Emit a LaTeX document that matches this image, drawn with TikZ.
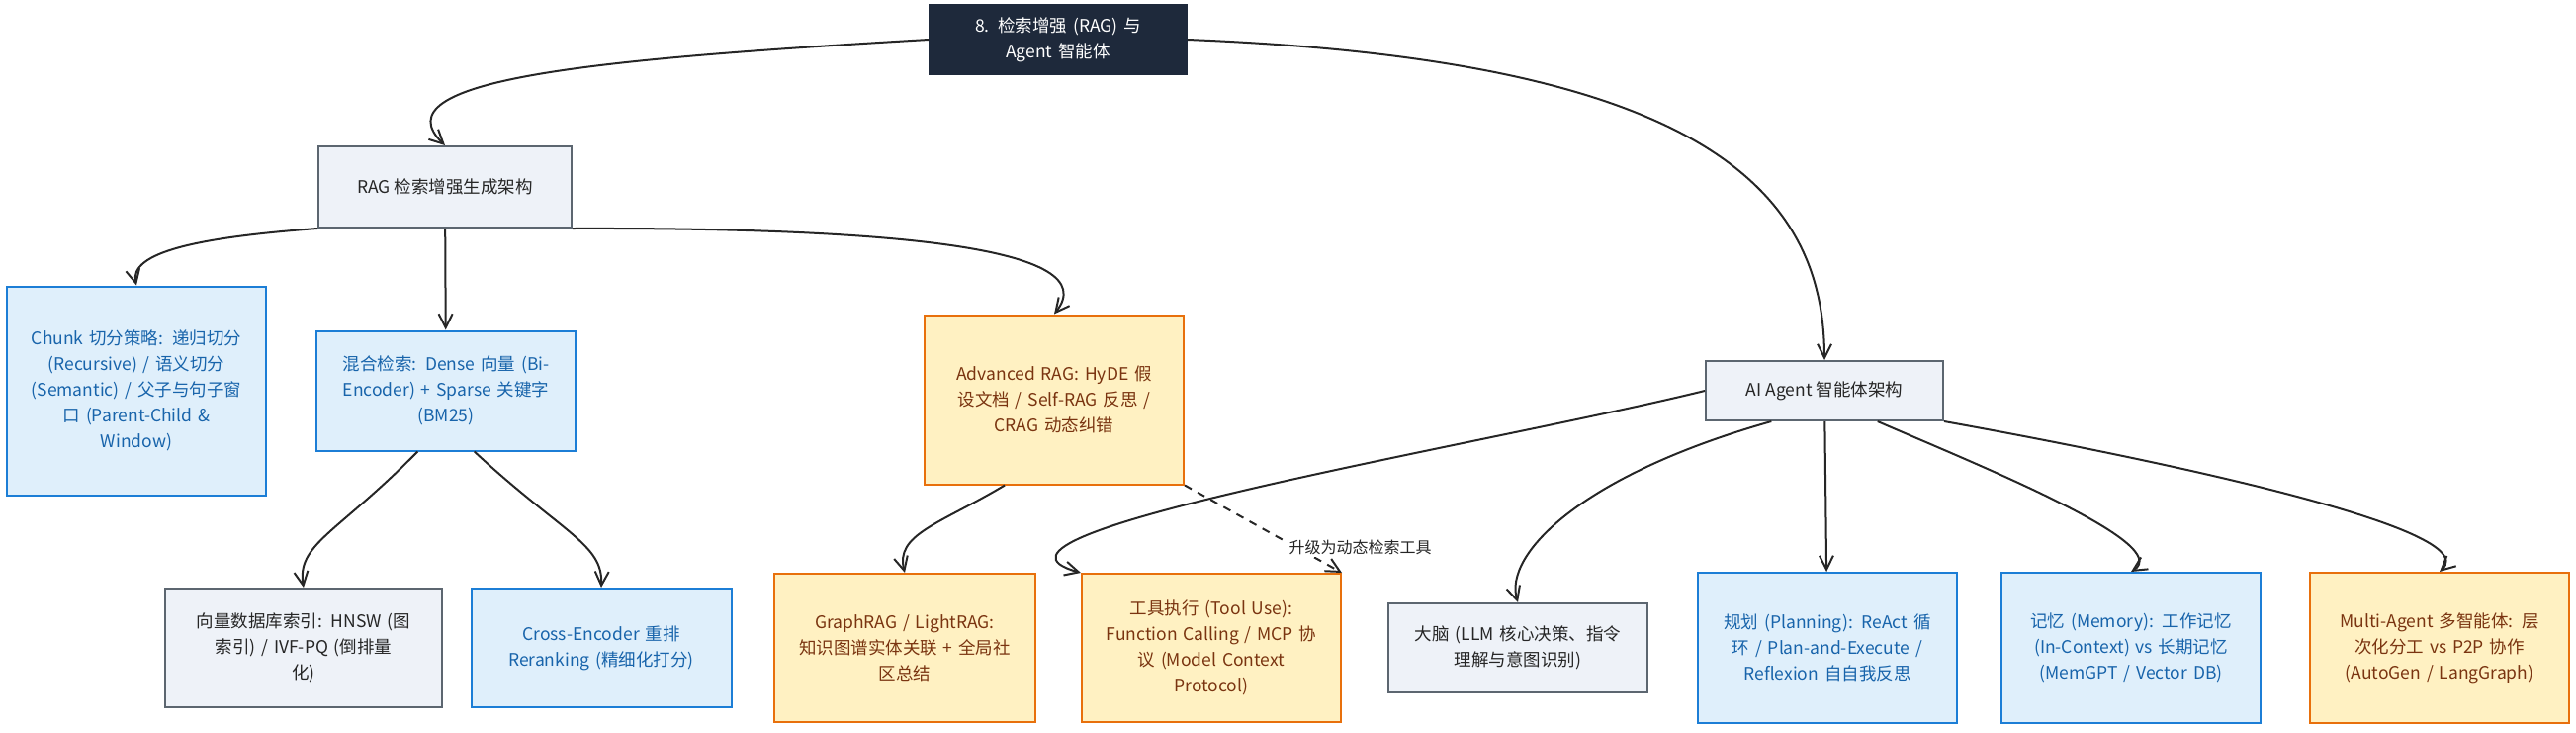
\documentclass[tikz,border=0pt]{standalone}
\usepackage{fontspec}
\setmainfont{Noto Sans CJK SC}
\usetikzlibrary{arrows.meta, positioning}
\definecolor{navy}{HTML}{1E293B}
\definecolor{bluefill}{HTML}{DFEFFB}
\definecolor{blueline}{HTML}{1C7ED6}
\definecolor{bluetext}{HTML}{1864AB}
\definecolor{yelfill}{HTML}{FFF1C2}
\definecolor{yelline}{HTML}{E8700C}
\definecolor{yeltext}{HTML}{7A3410}
\definecolor{grayfill}{HTML}{EEF2F8}
\definecolor{grayline}{HTML}{5C6670}
\tikzset{
  base/.style = {
    draw, line width=2pt, font=\fontsize{17.5}{26}\selectfont,
    text centered, align=center, inner sep=6pt
  },
  root/.style = {base, fill=navy, draw=navy, text=white, minimum width=260, minimum height=70, text width=240},
  hub/.style = {base, fill=grayfill, draw=grayline, text=black!85},
  blue/.style = {base, fill=bluefill, draw=blueline, text=bluetext, minimum width=260, text width=250},
  yel/.style = {base, fill=yelfill, draw=yelline, text=yeltext, minimum width=260, text width=250},
  gray/.style = {base, fill=grayfill, draw=grayline, text=black!85, minimum width=260, text width=250},
  arrow/.style = {line width=2pt, black!85, -{Straight Barb[length=14pt, width=14pt]}}
}
\begin{document}
\begin{tikzpicture}[x=1pt, y=-1pt]
  \useasboundingbox (0,0) rectangle (2605,740);

  % Top levels
  \node[root] (top) at (1070,40) {8. 检索增强 (RAG) 与\\Agent 智能体};
  \node[hub, minimum width=256, minimum height=82] (rag) at (450,189) {RAG 检索增强生成架构};
  \node[hub, minimum width=240, minimum height=60] (agent) at (1845,395) {AI Agent 智能体架构};

  % RAG branch
  \node[blue, minimum height=211] (chunk) at (138,395) {Chunk 切分策略: 递归切分\\(Recursive) / 语义切分\\(Semantic) / 父子与句子窗\\口 (Parent-Child \&\\Window)};
  \node[blue, minimum width=258, minimum height=121] (hybrid) at (451,395) {混合检索: Dense 向量 (Bi-\\Encoder) + Sparse 关键字\\(BM25)};
  \node[yel, minimum width=253, minimum height=171] (adv) at (1066,404) {Advanced RAG: HyDE 假\\设文档 / Self-RAG 反思 /\\CRAG 动态纠错};
  \node[gray, minimum width=280, minimum height=120, text width=268] (vecdb) at (307,655) {向量数据库索引: HNSW (图\\索引) / IVF-PQ (倒排量\\化)};
  \node[blue, minimum width=263, minimum height=120] (cross) at (608,655) {Cross-Encoder 重排\\Reranking (精细化打分)};
  \node[yel, minimum width=264, minimum height=150] (graph) at (915,655) {GraphRAG / LightRAG:\\知识图谱实体关联 + 全局社\\区总结};
  \node[yel, minimum height=150] (tool) at (1225,655) {工具执行 (Tool Use):\\Function Calling / MCP 协\\议 (Model Context\\Protocol)};

  % Agent branch
  \node[gray, minimum height=90] (brain) at (1535,655) {大脑 (LLM 核心决策、指令\\理解与意图识别)};
  \node[blue, minimum height=152] (plan) at (1848,655) {规划 (Planning): ReAct 循\\环 / Plan-and-Execute /\\Reflexion 自自我反思};
  \node[blue, minimum height=152] (mem) at (2155,655) {记忆 (Memory): 工作记忆\\(In-Context) vs 长期记忆\\(MemGPT / Vector DB)};
  \node[yel, minimum height=152] (multi) at (2467,655) {Multi-Agent 多智能体: 层\\次化分工 vs P2P 协作\\(AutoGen / LangGraph)};

  % Arrows from top
  \draw[arrow] (top.west) .. controls (600,60) and (380,80) .. (rag.north);
  \draw[arrow] (top.east) .. controls (1700,60) and (1845,180) .. (agent.north);

  % Arrows in RAG branch
  \draw[arrow] (rag.south west) .. controls (200,240) and (130,255) .. (chunk.north);
  \draw[arrow] (rag) -- (hybrid);
  \draw[arrow] (rag.south east) .. controls (900,230) and (1120,250) .. (adv.north);
  \draw[arrow] (hybrid.-115) .. controls (340,540) and (300,550) .. (vecdb.north);
  \draw[arrow] (hybrid.-65) .. controls (570,540) and (610,550) .. (cross.north);
  \draw[arrow] (adv.-120) .. controls (950,530) and (905,540) .. (graph.north);
  \draw[arrow, dashed, dash pattern=on 8pt off 7pt] (adv.south east) -- node[pos=0.62, below right=-2pt and 4pt, fill=white, inner sep=2pt, font=\fontsize{16}{18}\selectfont] {升级为动态检索工具} (tool.north east);

  % Arrows in Agent branch
  \draw[arrow] (agent.west) .. controls (1500,450) and (950,540) .. (tool.north west);
  \draw[arrow] (agent.-150) .. controls (1600,480) and (1520,560) .. (brain.north);
  \draw[arrow] (agent) -- (plan);
  \draw[arrow] (agent.-30) .. controls (2000,470) and (2200,550) .. (mem.north);
  \draw[arrow] (agent.south east) .. controls (2100,450) and (2520,530) .. (multi.north);
\end{tikzpicture}
\end{document}
